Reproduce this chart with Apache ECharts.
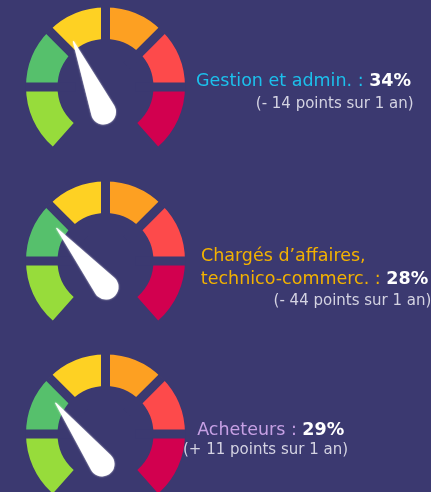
<!DOCTYPE html>
<html>
<head>
<meta charset="utf-8">
<script src="https://cdn.jsdelivr.net/npm/echarts@6/dist/echarts.min.js"></script>
<style>
html,body{margin:0;padding:0;background:#3b3970;}
#c{width:431px;height:492px;}
</style>
</head>
<body>
<div id="c"></div>
<script>
// ---- data ----
const labelLines = [['Gestion et admin.'], ['Chargés d’affaires,', 'technico-commerc.'], ['Acheteurs']];
const values = [34, 28, 29];
const deltas = ['- 14', '- 44', '+ 11'];
const deltaText = 'points sur 1 an';
const labelColors = ['#1cc0ec', '#f3b200', '#c6a0e4'];
const ringColors = ['#97dc3b', '#56c06c', '#fed123', '#fda022', '#fd4a4b', '#d2004f'];

// ---- layout ----
const BG = '#3b3970';
const ringCX = 105.5;
const ringCY = [87, 261, 434];
const pivots = [[103.5, 112], [106, 287], [102, 464]];
// [centerX, baselineY] for each text line (label lines..., delta line)
const textPos = [
  [[303.5, 86.5], [334.7, 108.3]],
  [[283.3, 262], [314.5, 284.5], [352.5, 306]],
  [[270.7, 436], [265.5, 454.3]]
];
const FONT = 'DejaVu Sans';
const fsLabel = 17.5, fsDelta = 15;

const START = 228.5, END = -48.5, SPAN = START - END;
const stops = [180, 135, 90, 45, 0].map(a => (START - a) / SPAN);
const axisColors = ringColors.map((c, i) => [i < 5 ? stops[i] : 1, c]);

const needlePath = 'path://M12 0 L13 0 L24.84 74.97 A12.5 12.5 0 1 1 0.16 74.97 Z';

const series = [];
const graphic = [];
values.forEach((v, i) => {
  const cy = ringCY[i];
  series.push({
    type: 'gauge', center: [ringCX, cy], radius: 79.5,
    startAngle: START, endAngle: END, min: 0, max: 100,
    axisLine: { show: true, roundCap: false, lineStyle: { width: 31.5, color: axisColors } },
    axisTick: { show: false }, splitLine: { show: false }, axisLabel: { show: false },
    pointer: { show: false }, anchor: { show: false }, title: { show: false }, detail: { show: false },
    progress: { show: false },
    data: []
  });
  series.push({
    type: 'gauge', center: [ringCX, cy], radius: 80,
    startAngle: 180, endAngle: 0, splitNumber: 4, min: 0, max: 100,
    axisLine: { show: false, lineStyle: { width: 10 } },
    splitLine: { show: true, distance: -10, length: 50, lineStyle: { color: BG, width: 9, cap: 'butt' } },
    axisTick: { show: false }, axisLabel: { show: false },
    pointer: { show: false }, anchor: { show: false }, title: { show: false }, detail: { show: false },
    data: []
  });
  series.push({
    type: 'gauge', center: pivots[i], radius: 80,
    startAngle: 209, endAngle: -73, min: 0, max: 100,
    axisLine: { show: false }, axisTick: { show: false }, splitLine: { show: false }, axisLabel: { show: false },
    pointer: {
      show: true, icon: needlePath, length: 89.5, width: 25, offsetCenter: [0, 12.5], keepAspect: false,
      itemStyle: { color: '#ffffff', shadowBlur: 2, shadowColor: 'rgba(255,255,255,0.8)' }
    },
    anchor: { show: false }, title: { show: false }, detail: { show: false },
    data: [{ value: v }]
  });

  const lines = labelLines[i];
  lines.forEach((ln, j) => {
    const p = textPos[i][j];
    const last = j === lines.length - 1;
    graphic.push({
      type: 'text', x: p[0], y: p[1] - 0.3 * fsLabel, z: 100,
      style: {
        text: last ? '{l|' + ln + ' : }{v|' + v + '%}' : '{l|' + ln + '}',
        align: 'center', verticalAlign: 'middle',
        rich: {
          l: { fill: labelColors[i], fontSize: fsLabel, fontFamily: FONT },
          v: { fill: '#ffffff', fontSize: fsLabel, fontFamily: FONT, fontWeight: 'bold' }
        }
      }
    });
  });
  const dp = textPos[i][lines.length];
  graphic.push({
    type: 'text', x: dp[0], y: dp[1] - 0.3 * fsDelta, z: 100,
    style: {
      text: '(' + deltas[i] + ' ' + deltaText + ')',
      fill: '#d4d3e2', fontSize: fsDelta, fontFamily: FONT,
      align: 'center', verticalAlign: 'middle'
    }
  });
});

const chart = echarts.init(document.getElementById('c'), null, { renderer: 'canvas' });
chart.setOption({
  backgroundColor: BG,
  animation: false,
  series: series,
  graphic: graphic
});
</script>
</body>
</html>
